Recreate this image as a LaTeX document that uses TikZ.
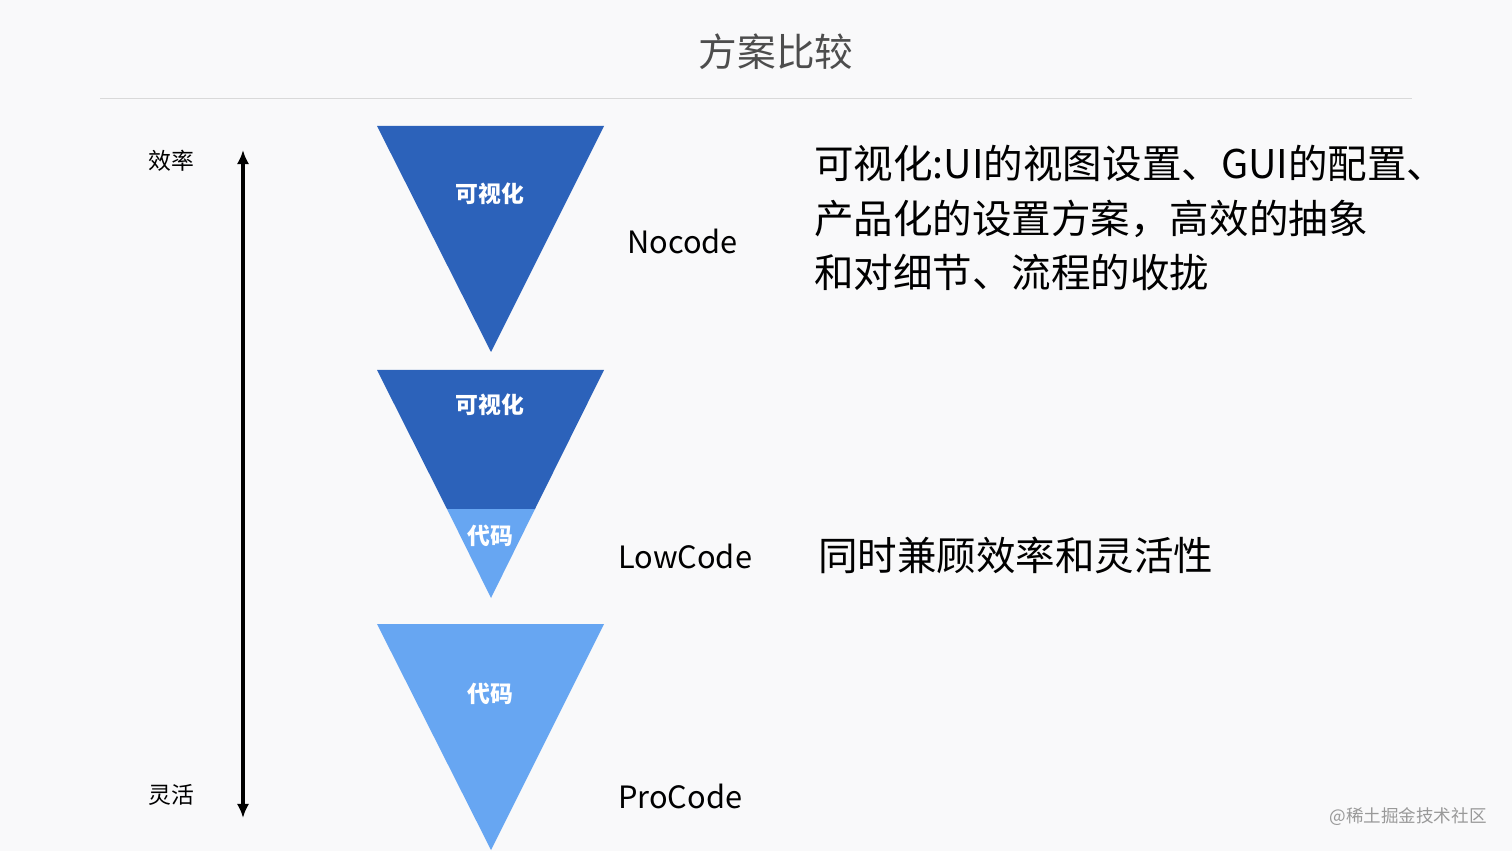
\documentclass[tikz,border=0pt]{standalone}
\usepackage{fontspec}
\setmainfont{Noto Sans CJK SC}
\usepackage{tikz}
\usetikzlibrary{arrows.meta}

\definecolor{bgcol}{HTML}{F9F9FA}
\definecolor{darkblue}{HTML}{2C62BA}
\definecolor{lightblue}{HTML}{67A6F2}
\definecolor{titlegray}{HTML}{4D4D4D}

\begin{document}
\begin{tikzpicture}[x=0.02cm,y=-0.02cm,
    inlabel/.style={text=white,font=\bfseries\fontsize{13}{15}\selectfont},
    kind/.style={anchor=west,font=\fontsize{17.5}{20}\selectfont},
    note/.style={anchor=west,font=\fontsize{22.5}{31.2}\selectfont,align=left}]
            \fill[bgcol] (0,0) rectangle (1512,851);
            \useasboundingbox (0,0) rectangle (1512,851);
            % title
            \node[text=titlegray,font=\fontsize{22}{26}\selectfont] (title) at (776,52) {方案比较};
            \draw[gray!30,thin] (100,98) -- (1412,98);
            % efficiency axis
            \coordinate (top) at (243,150);
            \coordinate (bottom) at (243,818);
            \draw[line width=2pt,{Latex[length=8pt,width=7pt]}-{Latex[length=8pt,width=7pt]}] (top) -- (bottom);
            \node[font=\fontsize{13}{15}\selectfont] (eff) at (171,161) {效率};
            \node[font=\fontsize{13}{15}\selectfont] (flex) at (171,795) {灵活};
            % triangles
            \fill[darkblue] (377,126) -- (604,126) -- (491,352) -- cycle;
            \fill[darkblue] (377,370) -- (604,370) -- (535,509) -- (447,509) -- cycle;
            \fill[lightblue] (447,509) -- (535,509) -- (491,598) -- cycle;
            \fill[lightblue] (377,624) -- (604,624) -- (491,850) -- cycle;
            \node[inlabel] (vis1) at (490,194) {可视化};
            \node[inlabel] (vis2) at (490,405) {可视化};
            \node[inlabel] (code1) at (490,536) {代码};
            \node[inlabel] (code2) at (490,694) {代码};
            % names
            \node[kind] (nocode) at (621,241) {Nocode};
            \node[kind] (lowcode) at (612,556) {LowCode};
            \node[kind] (procode) at (612,796) {ProCode};
            % notes
            \node[note] (nonote) at (808,218) {可视化:UI的视图设置、GUI的配置、\\产品化的设置方案，高效的抽象\\和对细节、流程的收拢};
            \node[note] (lownote) at (812,555) {同时兼顾效率和灵活性};
            \node[text=gray!80,font=\fontsize{10}{12}\selectfont] (mark) at (1408,817) {@稀土掘金技术社区};
        \end{tikzpicture}
\end{document}
